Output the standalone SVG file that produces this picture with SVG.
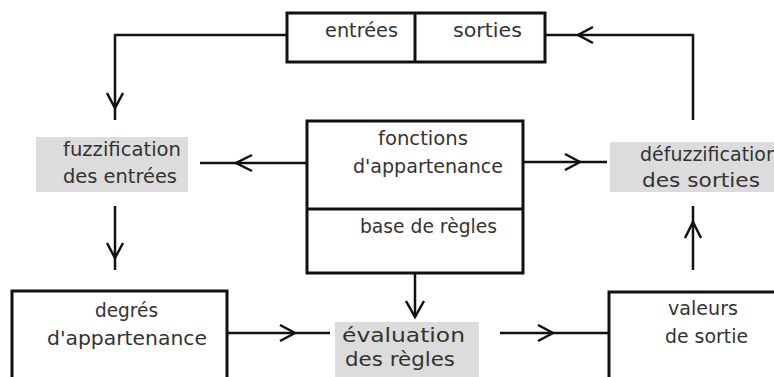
<svg xmlns="http://www.w3.org/2000/svg" width="774" height="377" viewBox="0 0 774 377">
<style>
.box{fill:#fff;stroke:#111;stroke-width:3}
.gray{fill:#dcdcdc;stroke:none}
.ln{fill:none;stroke:#111;stroke-width:2.5}
.t{font-family:"DejaVu Sans","Liberation Sans",sans-serif;font-size:20px;fill:#333}
</style>
<rect width="774" height="377" fill="#fff"/>
<g id="es">
<rect class="box" x="287" y="13" width="258" height="49"/>
<line class="ln" x1="415" y1="13" x2="415" y2="62" style="stroke-width:3"/>
<text class="t" x="325" y="37" textLength="73" lengthAdjust="spacingAndGlyphs">entrées</text>
<text class="t" x="453" y="37" textLength="69" lengthAdjust="spacingAndGlyphs">sorties</text>
</g>
<g id="fuzz">
<rect class="gray" x="36" y="137" width="152" height="55"/>
<text class="t" x="63" y="156" textLength="118" lengthAdjust="spacingAndGlyphs">fuzzification</text>
<text class="t" x="63" y="183" textLength="114" lengthAdjust="spacingAndGlyphs">des entrées</text>
</g>
<g id="central">
<rect class="box" x="307" y="121" width="216" height="152"/>
<line class="ln" x1="307" y1="209" x2="523" y2="209" style="stroke-width:3"/>
<text class="t" x="378" y="145" textLength="90" lengthAdjust="spacingAndGlyphs">fonctions</text>
<text class="t" x="353" y="173" textLength="150" lengthAdjust="spacingAndGlyphs">d'appartenance</text>
<text class="t" x="360" y="233" textLength="137" lengthAdjust="spacingAndGlyphs">base de règles</text>
</g>
<g id="defuzz">
<rect class="gray" x="610" y="142" width="170" height="50"/>
<text class="t" x="640" y="161" textLength="138" lengthAdjust="spacingAndGlyphs">défuzzification</text>
<text class="t" x="642" y="187" textLength="118" lengthAdjust="spacingAndGlyphs">des sorties</text>
</g>
<g id="degres">
<rect class="box" x="12" y="291" width="215" height="100"/>
<text class="t" x="95" y="317" textLength="63" lengthAdjust="spacingAndGlyphs">degrés</text>
<text class="t" x="47" y="345" textLength="160" lengthAdjust="spacingAndGlyphs">d'appartenance</text>
</g>
<g id="eval">
<rect class="gray" x="335" y="322" width="144" height="60"/>
<text class="t" x="342" y="342" textLength="123" lengthAdjust="spacingAndGlyphs">évaluation</text>
<text class="t" x="345" y="366" textLength="110" lengthAdjust="spacingAndGlyphs">des règles</text>
</g>
<g id="valeurs">
<rect class="box" x="609" y="292" width="180" height="100"/>
<text class="t" x="668" y="315" textLength="70" lengthAdjust="spacingAndGlyphs">valeurs</text>
<text class="t" x="665" y="343" textLength="83" lengthAdjust="spacingAndGlyphs">de sortie</text>
</g>
<g id="connectors">
<polyline class="ln" points="287,35 115,35 115,120"/>
<polyline class="ln" points="107,93 115,108 123,93"/>
<polyline class="ln" points="693,120 693,35 545,35"/>
<polyline class="ln" points="593,27 578,35 593,43"/>
<line class="ln" x1="307" y1="163" x2="200" y2="163"/>
<polyline class="ln" points="252,155 236,163 252,171"/>
<line class="ln" x1="523" y1="162" x2="607" y2="162"/>
<polyline class="ln" points="565,154 580,162 565,170"/>
<line class="ln" x1="115" y1="206" x2="115" y2="270"/>
<polyline class="ln" points="107,243 115,258 123,243"/>
<line class="ln" x1="693" y1="270" x2="693" y2="206"/>
<polyline class="ln" points="685,238 693,222 701,238"/>
<line class="ln" x1="415" y1="273" x2="415" y2="317"/>
<polyline class="ln" points="406,301 415,317 424,301"/>
<line class="ln" x1="227" y1="333" x2="330" y2="333"/>
<polyline class="ln" points="280,325 295,333 280,341"/>
<line class="ln" x1="500" y1="333" x2="609" y2="333"/>
<polyline class="ln" points="538,325 553,333 538,341"/>
</g>
</svg>
